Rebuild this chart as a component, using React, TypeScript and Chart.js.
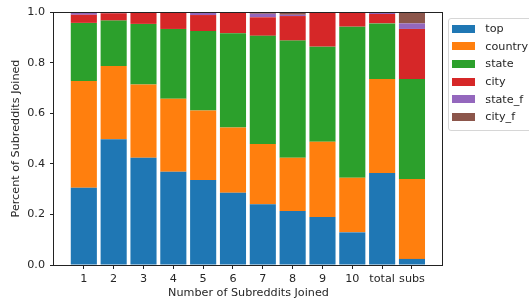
import React, { useEffect, useRef } from "react";
import { Chart, registerables } from "chart.js";

Chart.register(...registerables);

const categories = ["1", "2", "3", "4", "5", "6", "7", "8", "9", "10", "total", "subs"];
const seriesNames = ["top", "country", "state", "city", "state_f", "city_f"];
const seriesColors = ["#1f77b4", "#ff7f0e", "#2ca02c", "#d62728", "#9467bd", "#8c564b"];

const topVals = [0.305, 0.497, 0.424, 0.369, 0.336, 0.286, 0.240, 0.213, 0.190, 0.129, 0.364, 0.024];
const countryVals = [0.422, 0.290, 0.289, 0.288, 0.275, 0.257, 0.238, 0.211, 0.297, 0.216, 0.371, 0.316];
const stateVals = [0.230, 0.179, 0.240, 0.276, 0.314, 0.373, 0.428, 0.463, 0.376, 0.597, 0.220, 0.395];
const cityVals = [0.032, 0.029, 0.044, 0.065, 0.063, 0.082, 0.073, 0.097, 0.137, 0.058, 0.037, 0.198];
const stateFVals = [0.011, 0.005, 0.000, 0.002, 0.012, 0.002, 0.014, 0.005, 0.000, 0.000, 0.008, 0.022];
const cityFVals = [0.000, 0.000, 0.003, 0.000, 0.000, 0.000, 0.007, 0.011, 0.000, 0.000, 0.000, 0.045];

const yTicks = [0, 0.2, 0.4, 0.6, 0.8, 1.0];

const allSeries = [topVals, countryVals, stateVals, cityVals, stateFVals, cityFVals];

const FONT = "'DejaVu Sans', sans-serif";
const FS = 11.2;
const TEXT = "#262626";

const boxPlugin = {
  id: "boxPlugin",
  afterDraw(chart: any) {
    const { ctx, chartArea } = chart;
    const l = Math.round(chartArea.left) - 0.5;
    const t = Math.round(chartArea.top) + 0.5;
    const r = Math.round(chartArea.right) - 0.5;
    const b = Math.round(chartArea.bottom) + 0.5;
    ctx.save();
    ctx.strokeStyle = "#222";
    ctx.lineWidth = 1;
    ctx.strokeRect(l, t, r - l, b - t);
    ctx.restore();
  },
};

export default function App() {
  const canvasRef = useRef<HTMLCanvasElement | null>(null);

  useEffect(() => {
    if (!canvasRef.current) return;
    const chart = new Chart(canvasRef.current, {
      type: "bar",
      data: {
        datasets: allSeries.map((vals, si) => ({
          label: seriesNames[si],
          data: vals.map((v, i) => ({ x: i, y: v })),
          backgroundColor: seriesColors[si],
          borderWidth: 0,
          barPercentage: 0.875,
          categoryPercentage: 1,
        })),
      },
      options: {
        animation: false,
        responsive: false,
        devicePixelRatio: 1,
        layout: { padding: { top: 12, right: 86, left: 0, bottom: 0 } },
        plugins: { legend: { display: false }, tooltip: { enabled: false } },
        scales: {
          x: {
            type: "linear",
            stacked: true,
            offset: false,
            min: -1,
            max: 12.04,
            afterBuildTicks: (scale: any) => {
              scale.ticks = categories.map((_, i) => ({ value: i }));
            },
            afterFit: (scale: any) => {
              scale.height = 41;
            },
            ticks: {
              autoSkip: false,
              maxRotation: 0,
              padding: 3.5,
              color: TEXT,
              font: { family: FONT, size: FS },
              callback: (v: any) => categories[v as number] ?? "",
            },
            grid: { display: true, drawOnChartArea: false, drawTicks: true, tickLength: 4, color: "#222", offset: false },
            border: { display: false },
            title: {
              display: true,
              text: "Number of Subreddits Joined",
              color: TEXT,
              font: { family: FONT, size: FS },
              padding: { top: 0, bottom: 6.5 },
            },
          },
          y: {
            stacked: true,
            min: 0,
            max: 1,
            afterBuildTicks: (scale: any) => {
              scale.ticks = yTicks.map((v) => ({ value: v }));
            },
            afterFit: (scale: any) => {
              scale.width = 54;
            },
            ticks: {
              padding: 5,
              color: TEXT,
              font: { family: FONT, size: FS },
              callback: (v: any) => Number(v).toFixed(1),
            },
            grid: { display: true, drawOnChartArea: false, drawTicks: true, tickLength: 4, color: "#222" },
            border: { display: false },
            title: {
              display: true,
              text: "Percent of Subreddits Joined",
              color: TEXT,
              font: { family: FONT, size: FS },
              padding: { top: 9.3, bottom: 0 },
            },
          },
        },
      },
      plugins: [boxPlugin],
    } as any);
    return () => chart.destroy();
  }, []);

  return (
    <div
      style={{
        position: "fixed",
        left: 0,
        top: 0,
        width: 529,
        height: 306,
        overflow: "hidden",
        background: "#fff",
      }}
    >
      <canvas ref={canvasRef} width={529} height={306} style={{ display: "block" }} />
      <div
        style={{
          position: "absolute",
          left: 448,
          top: 18,
          width: 100,
          height: 113,
          border: "1px solid #d6d6d6",
          borderRadius: 3,
          background: "rgba(255,255,255,0.8)",
          boxSizing: "border-box",
          paddingTop: 1,
          fontFamily: FONT,
          fontSize: FS,
          color: TEXT,
        }}
      >
        {seriesNames.map((name, i) => (
          <div key={name} style={{ display: "flex", alignItems: "center", height: 17.6 }}>
            <span
              style={{
                display: "inline-block",
                flex: "none",
                width: 23,
                height: 8,
                marginLeft: 3.3,
                marginRight: 10,
                background: seriesColors[i],
              }}
            />
            <span style={{ lineHeight: "13px", whiteSpace: "nowrap" }}>{name}</span>
          </div>
        ))}
      </div>
    </div>
  );
}
